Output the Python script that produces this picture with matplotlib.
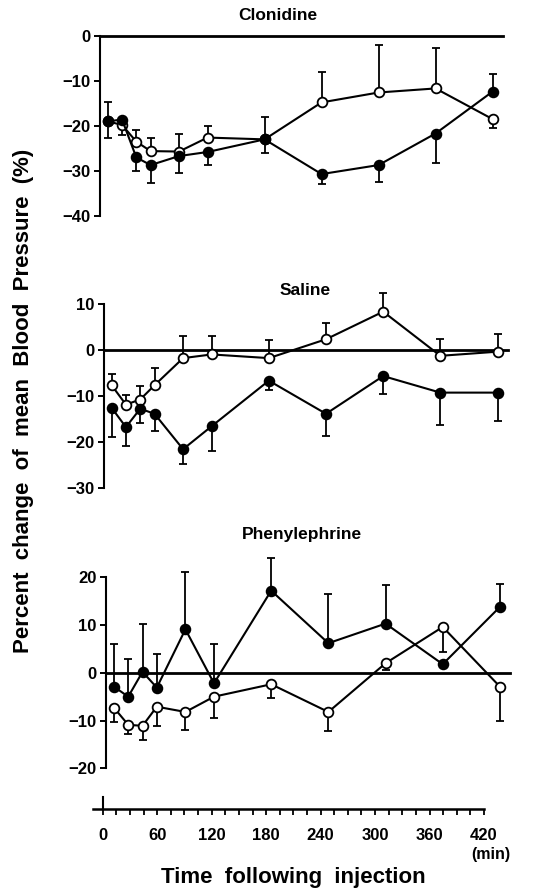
import matplotlib
matplotlib.use("Agg")
import matplotlib.pyplot as plt
import numpy as np
from matplotlib.ticker import MultipleLocator

plt.rcParams['font.family'] = ['Liberation Sans', 'DejaVu Sans']
plt.rcParams['font.weight'] = 'bold'

# sampling times (min after injection)
time = [5, 20, 35, 50, 80, 110, 170, 230, 290, 350, 410]

# Clonidine
clon_filled = [-19.0, -18.6, -27.0, -28.7, -26.7, -25.8, -23.0, -30.7, -28.7, -21.7, -12.4]
clon_filled_lo = [3.8, 0.0, 3.0, 3.9, 3.8, 2.9, 3.1, 2.1, 3.8, 6.6, 0.0]
clon_filled_hi = [0.0, 0.0, 0.0, 0.0, 0.0, 0.0, 0.0, 0.0, 0.0, 0.0, 4.0]
clon_open = [-19.0, -19.8, -23.5, -25.6, -25.7, -22.6, -23.0, -14.8, -12.6, -11.7, -18.5]
clon_open_lo = [0.0, 2.2, 0.0, 0.0, 0.0, 0.0, 0.0, 0.0, 0.0, 0.0, 1.9]
clon_open_hi = [4.4, 0.0, 2.5, 3.0, 3.8, 2.6, 5.0, 6.8, 10.5, 9.0, 0.0]

# Saline
sal_filled = [-12.5, -16.7, -12.7, -13.8, -21.5, -16.5, -6.6, -13.8, -5.6, -9.2, -9.2]
sal_filled_lo = [6.4, 4.0, 3.0, 3.8, 3.3, 5.3, 2.1, 4.9, 4.0, 7.1, 6.2]
sal_open = [-7.6, -11.8, -10.7, -7.6, -1.7, -0.9, -1.7, 2.4, 8.4, -1.2, -0.3]
sal_open_hi = [2.5, 2.0, 2.9, 3.8, 4.8, 4.0, 3.9, 3.5, 4.1, 3.7, 3.9]

# Phenylephrine
phe_filled = [-2.9, -5.0, 0.2, -3.1, 9.1, -2.2, 17.2, 6.2, 10.3, 1.8, 13.8]
phe_filled_hi = [8.9, 7.9, 10.1, 7.1, 12.1, 8.2, 6.8, 10.2, 8.1, 0.0, 4.8]
phe_open = [-7.3, -10.9, -11.1, -7.1, -8.2, -5.0, -2.4, -8.2, 2.0, 9.6, -2.9]
phe_open_lo = [3.0, 1.9, 2.9, 4.0, 3.8, 4.4, 2.8, 3.9, 1.5, 5.3, 7.1]

zeros = [0.0] * len(time)

W, H = 553, 891
fig = plt.figure(figsize=(W / 100, H / 100), dpi=100)


def px_axes(left, top, right, bottom):
    return fig.add_axes([left / W, 1 - bottom / H, (right - left) / W, (bottom - top) / H])


def style_panel(ax, ylim, ystep):
    ax.set_xlim(-3, 421)
    ax.set_ylim(*ylim)
    for s in ('top', 'right', 'bottom'):
        ax.spines[s].set_visible(False)
    ax.spines['left'].set_linewidth(1.5)
    ax.set_xticks([])
    ax.yaxis.set_major_locator(MultipleLocator(ystep))
    ax.tick_params(axis='y', direction='out', length=4.5, width=1.4,
                   pad=2.5, labelsize=12)
    for lab in ax.get_yticklabels():
        lab.set_fontweight('bold')
    ax.patch.set_alpha(0)


def draw_series(ax, y, lo, hi, filled):
    ax.errorbar(time, y, yerr=[lo, hi], fmt='none', ecolor='black',
                elinewidth=1.3, capsize=2.8, capthick=1.3, clip_on=False, zorder=2)
    ax.plot(time, y, '-', color='black', lw=1.5, marker='o', ms=7,
            mfc='black' if filled else 'white', mec='black', mew=1.3,
            clip_on=False, zorder=4 if filled else 3)


def zero_line(ax):
    ax.plot([-3, 421], [0, 0], color='black', lw=2.0, clip_on=False, zorder=1)


# Clonidine panel
ax1 = px_axes(100.2, 35.7, 503, 216)
style_panel(ax1, (-40, 0), 10)
zero_line(ax1)
draw_series(ax1, clon_open, clon_open_lo, clon_open_hi, False)
draw_series(ax1, clon_filled, clon_filled_lo, clon_filled_hi, True)
fig.text(278 / W, 1 - 16 / H, 'Clonidine', ha='center', va='center',
         fontsize=12.5, fontweight='bold')

# Saline panel
ax2 = px_axes(104, 304.3, 508, 488.3)
style_panel(ax2, (-30, 10), 10)
zero_line(ax2)
draw_series(ax2, sal_open, zeros, sal_open_hi, False)
draw_series(ax2, sal_filled, sal_filled_lo, zeros, True)
fig.text(305 / W, 1 - 290 / H, 'Saline', ha='center', va='center',
         fontsize=12.5, fontweight='bold')

# Phenylephrine panel
ax3 = px_axes(106.3, 577.3, 510.4, 768.3)
style_panel(ax3, (-20, 20), 10)
zero_line(ax3)
draw_series(ax3, phe_open, phe_open_lo, zeros, False)
draw_series(ax3, phe_filled, zeros, phe_filled_hi, True)
fig.text(302 / W, 1 - 535 / H, 'Phenylephrine', ha='center', va='center',
         fontsize=12.5, fontweight='bold')

# shared time axis
axt = px_axes(93, 790, 484, 809)
axt.set_xlim(-10.7, 420)
axt.set_ylim(0, 1)
for s in ('top', 'right', 'left'):
    axt.spines[s].set_visible(False)
axt.spines['bottom'].set_linewidth(1.8)
axt.set_yticks([])
axt.xaxis.set_major_locator(MultipleLocator(60))
axt.xaxis.set_minor_locator(MultipleLocator(15))
axt.tick_params(axis='x', which='both', direction='out', length=4.5, width=1.3)
axt.tick_params(axis='x', which='major', pad=9, labelsize=12)
for lab in axt.get_xticklabels():
    lab.set_fontweight('bold')
axt.plot([0, 0], [0, 0.65], color='black', lw=1.5, clip_on=False)
axt.patch.set_alpha(0)

fig.text(491 / W, 1 - 855 / H, '(min)', ha='center', va='center',
         fontsize=11.5, fontweight='bold')
fig.text(293 / W, 1 - 877 / H, 'Time  following  injection', ha='center',
         va='center', fontsize=16, fontweight='bold')
fig.text(24 / W, 1 - 401 / H, 'Percent  change  of  mean  Blood  Pressure  (%)',
         ha='center', va='center', rotation=90, fontsize=16, fontweight='bold')

fig.savefig('out.png', dpi=100, facecolor='white')
